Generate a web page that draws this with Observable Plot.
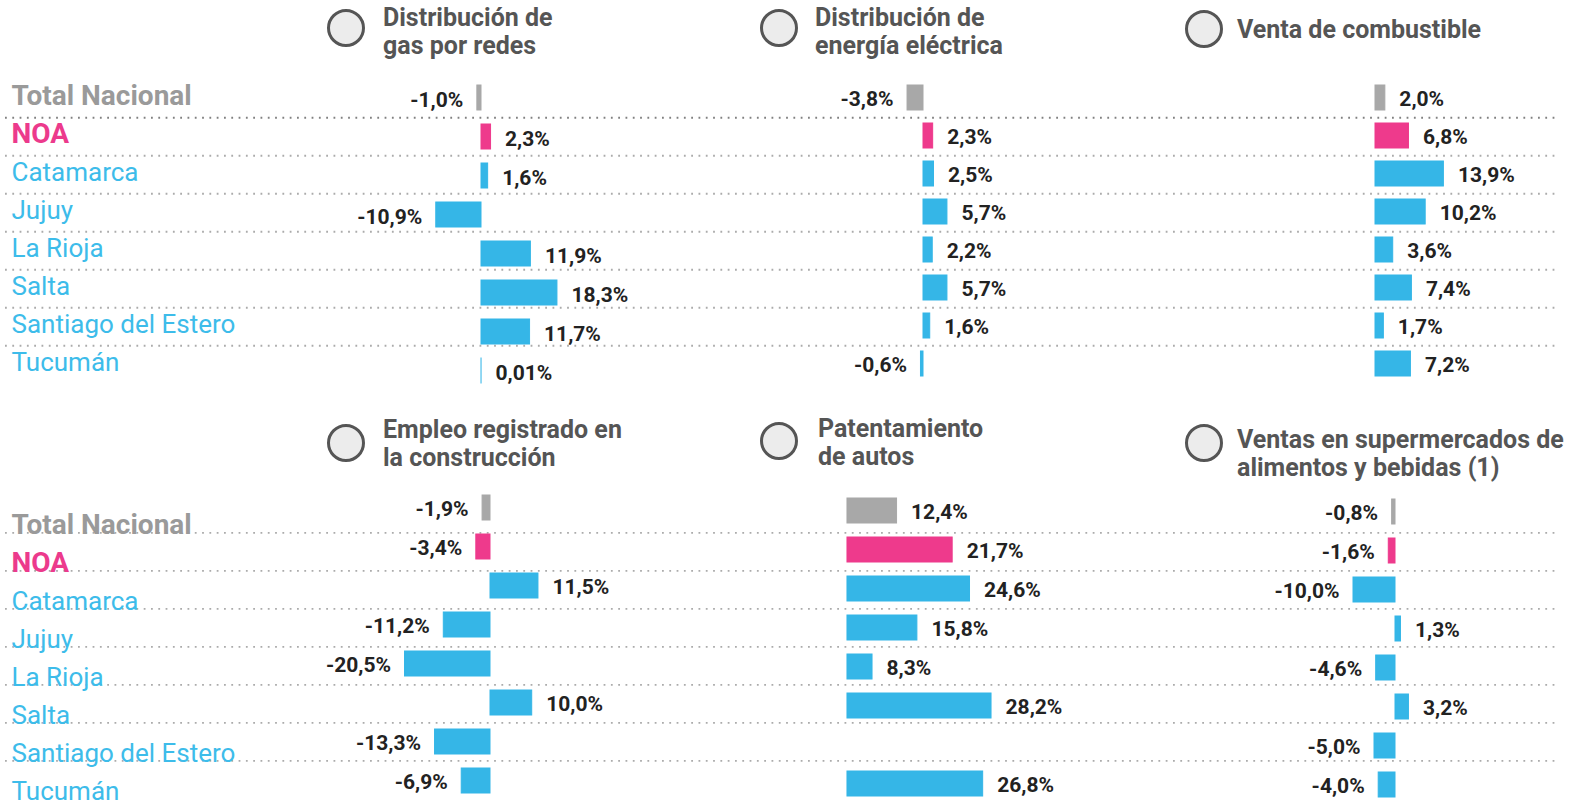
<!DOCTYPE html>
<html><head><meta charset="utf-8">
<script src="https://cdn.jsdelivr.net/npm/d3@7"></script>
<script src="https://cdn.jsdelivr.net/npm/@observablehq/plot@0.6"></script>
<style>
body{margin:0;background:#fff;}
#chart{position:relative;width:1575px;height:801px;overflow:hidden;font-family:Roboto,sans-serif;}
#chart svg{position:absolute;left:0;top:0;}
.title{position:absolute;font:700 25px/28px Roboto,sans-serif;color:#555;white-space:nowrap;}
.ring{position:absolute;width:38px;height:38px;box-sizing:border-box;border:3.5px solid #555;border-radius:50%;background:#ececec;}
</style></head><body><div id="chart"></div>
<script>
// ---- data ----
const regiones = ["Total Nacional","NOA","Catamarca","Jujuy","La Rioja","Salta","Santiago del Estero","Tucumán"];
const destacadas = ["Total Nacional","NOA"];
const gas = [-1.0, 2.3, 1.6, -10.9, 11.9, 18.3, 11.7, 0.01];
const electricidad = [-3.8, 2.3, 2.5, 5.7, 2.2, 5.7, 1.6, -0.6];
const combustible = [2.0, 6.8, 13.9, 10.2, 3.6, 7.4, 1.7, 7.2];
const empleo = [-1.9, -3.4, 11.5, -11.2, -20.5, 10.0, -13.3, -6.9];
const patentamiento = [12.4, 21.7, 24.6, 15.8, 8.3, 28.2, null, 26.8];
const supermercados = [-0.8, -1.6, -10.0, 1.3, -4.6, 3.2, -5.0, -4.0];
const titulos = [
  ["Distribución de","gas por redes"],
  ["Distribución de","energía eléctrica"],
  ["Venta de combustible"],
  ["Empleo registrado en","la construcción"],
  ["Patentamiento","de autos"],
  ["Ventas en supermercados de","alimentos y bebidas (1)"]
];
const series = [gas, electricidad, combustible, empleo, patentamiento, supermercados];

// ---- layout / style ----
const W = 1575, H = 801;
const barColors = {"Total Nacional":"#a8a8a8","NOA":"#ee3a8c"};
const barBlue = "#35b6e7";
const labelColors = {"Total Nacional":"#9a9a9a","NOA":"#ec3a8c"};
const labelBlue = "#3dbcea";
// zero: pixel of value 0; scale: px per unit; base: bar baseline (truncated axis in the original)
const panelLayout = [
  {zero:481,   scale:4.15, base:0,    c0:98,  step:39,   ldy:2, ring:[327,9],   title:[383,4]},
  {zero:923,   scale:4.2,  base:0,    c0:95,  step:38.6, ldy:1, ring:[760,9],   title:[815,4]},
  {zero:1375,  scale:4.92, base:0,    c0:95,  step:38.6, ldy:1, ring:[1185,10], title:[1237,16]},
  {zero:490,   scale:4.17, base:0,    c0:508, step:39,   ldy:1, ring:[327,424], title:[383,416]},
  {zero:822.4, scale:5.98, base:4.11, c0:511, step:39,   ldy:1, ring:[760,422], title:[818,415]},
  {zero:1395,  scale:4.2,  base:0,    c0:512, step:39,   ldy:1, ring:[1185,424],title:[1237,426]}
];
const rowLayout = [
  {line0:115.5, step:38.45, anchor:"middle", dy:-2, darkFirst:true},
  {line0:529.5, step:38.7,  anchor:"bottom", dy:20.3, darkFirst:false}
];

const fmt = v => (Math.abs(v) < 0.1 ? v.toFixed(2) : v.toFixed(1)).replace(".", ",") + "%";
const chart = document.getElementById("chart");

function fondo(L) {
  const top = L.line0 - L.step;
  return Plot.plot({
    width: W, height: H, marginLeft: 5, marginRight: 17, marginTop: 0, marginBottom: 0,
    style: {background: "transparent", overflow: "visible"},
    y: {type: "band", domain: regiones, range: [top, top + 8 * L.step], padding: 0, axis: null},
    color: {type: "identity"},
    marks: [
      Plot.ruleY(regiones.slice(0, -1), {y: d => d, dy: L.step / 2,
        stroke: (d, i) => (i === 0 && L.darkFirst) ? "#808080" : "#ababab",
        strokeWidth: 1.8, strokeDasharray: "1.8,5.5"}),
      Plot.text(regiones, {filter: d => destacadas.includes(d), y: d => d, text: d => d,
        frameAnchor: "left", dx: 6, textAnchor: "start", lineAnchor: L.anchor, dy: L.dy,
        fontSize: 28, fontWeight: 700, fontFamily: "Roboto", fill: d => labelColors[d]}),
      Plot.text(regiones, {filter: d => !destacadas.includes(d), y: d => d, text: d => d,
        frameAnchor: "left", dx: 6, textAnchor: "start", lineAnchor: L.anchor, dy: L.dy,
        fontSize: 26, fontWeight: 400, fontFamily: "Roboto", fill: labelBlue})
    ]
  });
}

function panel(valores, L) {
  const rows = regiones.map((r, i) => ({region: r, valor: valores[i], color: barColors[r] || barBlue}))
    .filter(d => d.valor != null);
  const top = L.c0 - L.step / 2;
  const txt = {x: "valor", y: "region", text: d => fmt(d.valor), dy: L.ldy,
    fontSize: 21, fontWeight: 700, fontFamily: "Roboto", fill: "#222"};
  return Plot.plot({
    width: W, height: H, margin: 0,
    style: {background: "transparent", overflow: "visible"},
    x: {domain: [-L.zero / L.scale, (W - L.zero) / L.scale], range: [0, W], axis: null},
    y: {type: "band", domain: regiones, range: [top, top + 8 * L.step], paddingInner: 0.35, paddingOuter: 0.175, axis: null},
    color: {type: "identity"},
    marks: [
      Plot.barX(rows, {x1: () => L.base, x2: "valor", y: "region", fill: "color", stroke: "color", strokeWidth: 1}),
      Plot.text(rows, {...txt, filter: d => d.valor >= 0, textAnchor: "start", dx: 14}),
      Plot.text(rows, {...txt, filter: d => d.valor < 0, textAnchor: "end", dx: -14})
    ]
  });
}

rowLayout.forEach(L => chart.appendChild(fondo(L)));
series.forEach((s, k) => {
  const L = panelLayout[k];
  chart.appendChild(panel(s, L));
  const ring = document.createElement("div");
  ring.className = "ring";
  ring.style.left = L.ring[0] + "px";
  ring.style.top = L.ring[1] + "px";
  chart.appendChild(ring);
  const t = document.createElement("div");
  t.className = "title";
  t.style.left = L.title[0] + "px";
  t.style.top = L.title[1] + "px";
  t.innerHTML = titulos[k].join("<br>");
  chart.appendChild(t);
});
</script></body></html>
